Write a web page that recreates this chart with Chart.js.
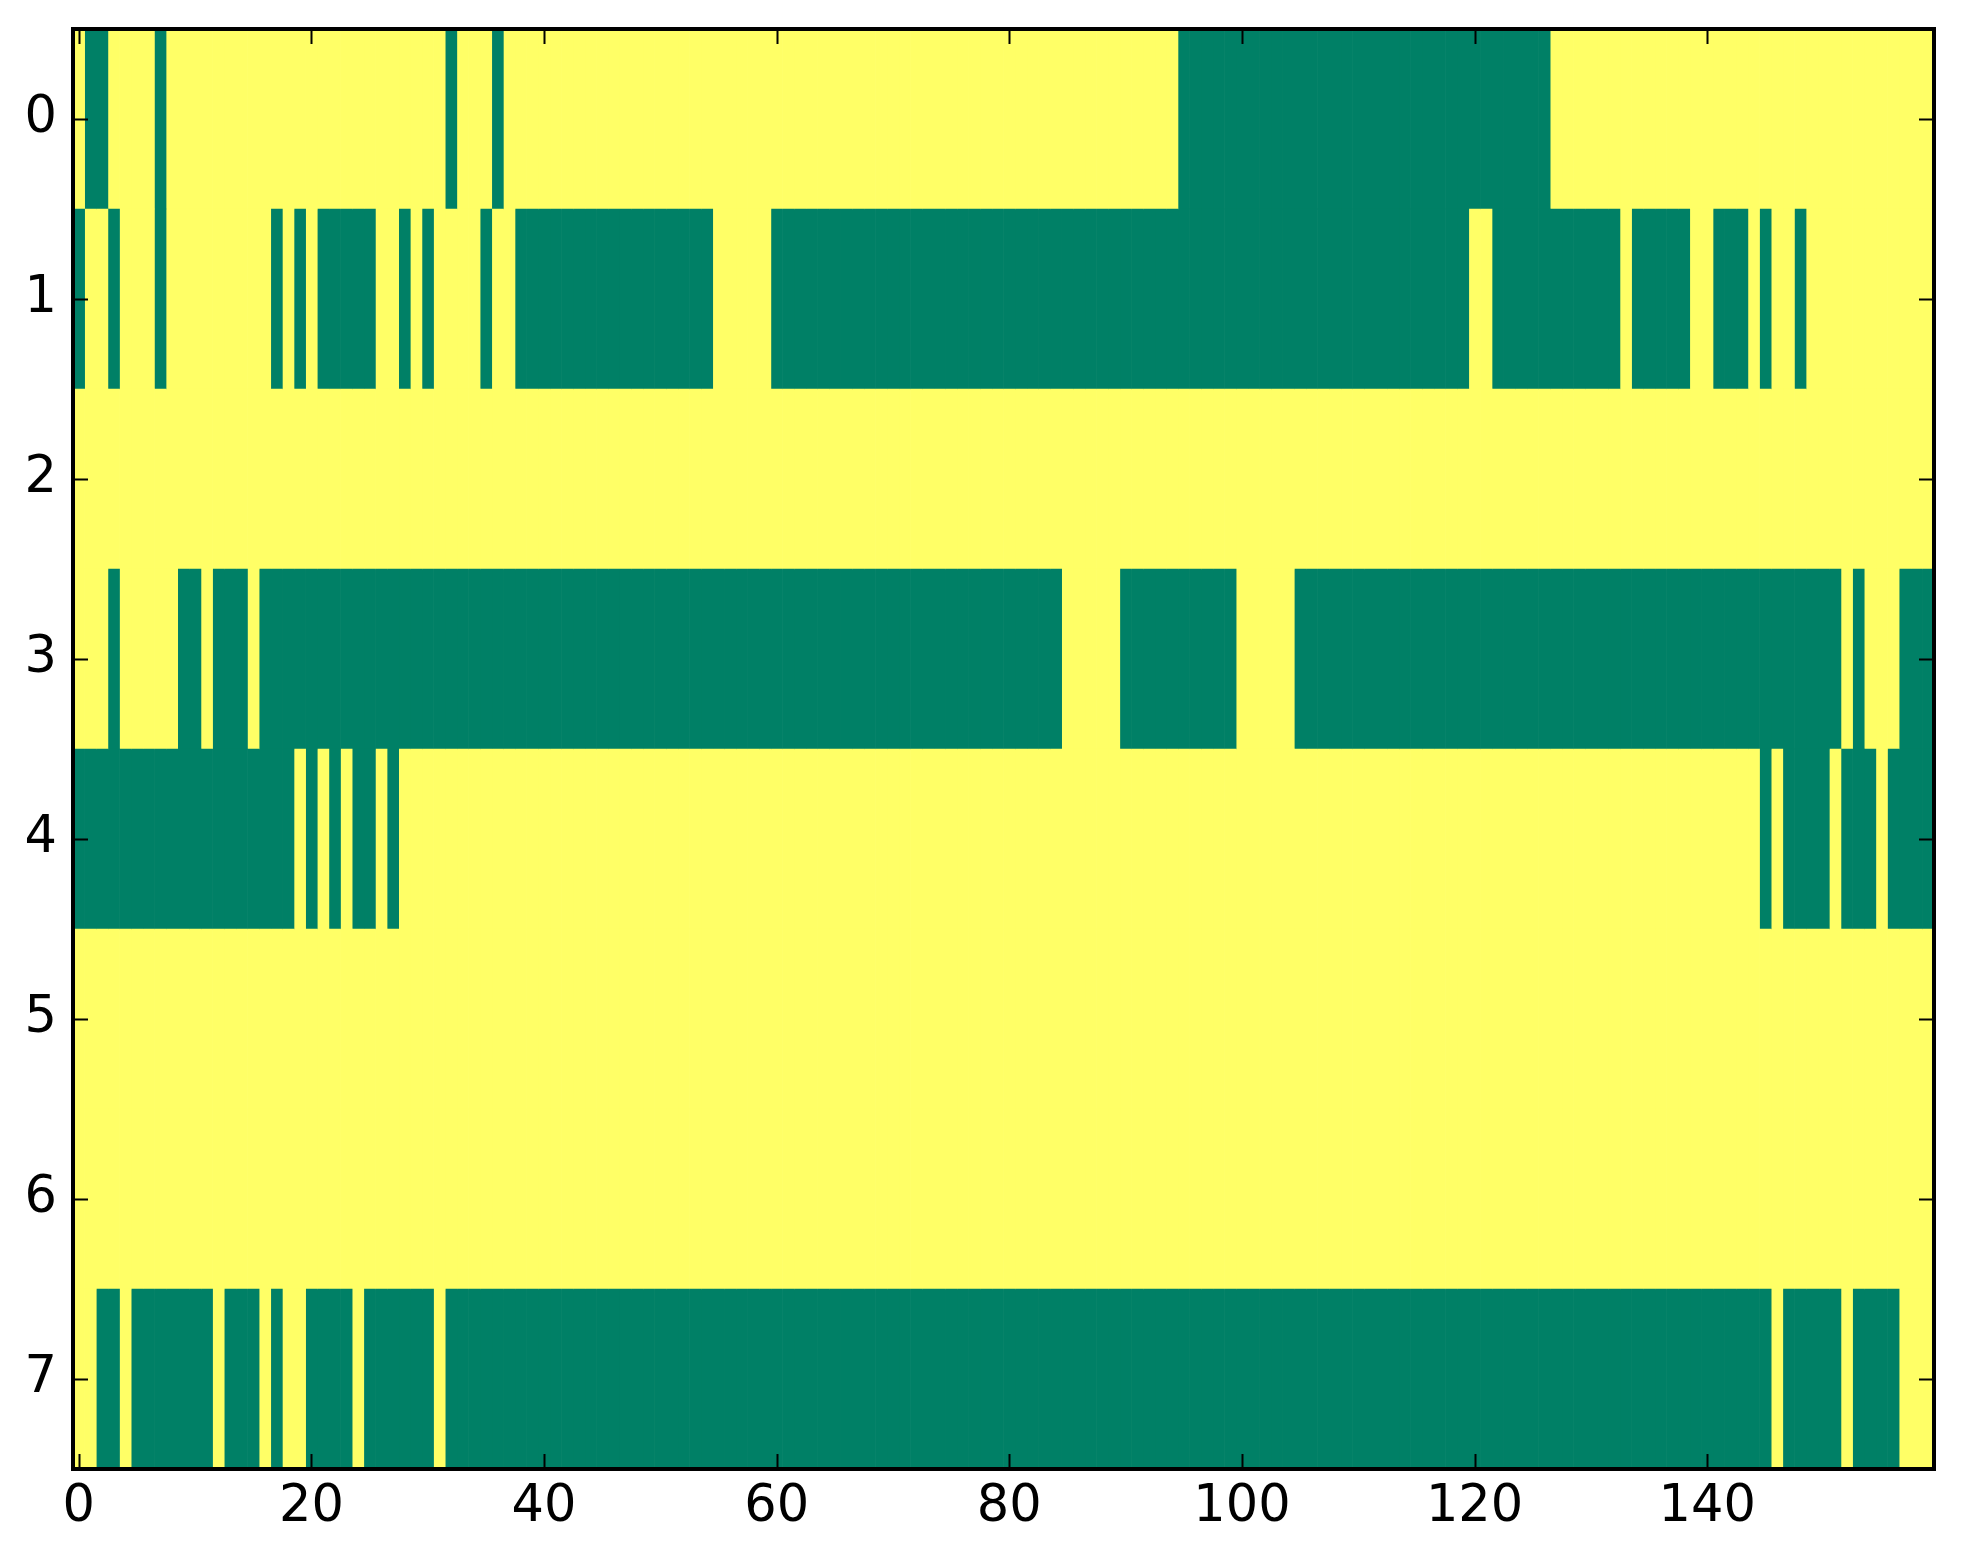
<!DOCTYPE html>
<html>
<head>
<meta charset="utf-8">
<script src="https://cdn.jsdelivr.net/npm/chart.js@4/dist/chart.umd.min.js"></script>
<style>
html,body{margin:0;padding:0;background:#ffffff;}
#wrap{width:1963px;height:1564px;position:relative;}
</style>
</head>
<body>
<div id="wrap"><canvas id="c"></canvas></div>
<script>
// ---- data (1 = high / yellow, 0 = low / green), 160 columns per row ----
const rowLabels = ['0', '1', '2', '3', '4', '5', '6', '7'];
const xTicks = [0, 20, 40, 60, 80, 100, 120, 140];
const xMin = -0.5;
const xMax = 159.5;

const row0 = "1001111011 1111111111 1111111111 1101110111 1111111111 1111111111 1111111111 1111111111 1111111111 1111100000 0000000000 0000000000 0000000111 1111111111 1111111111 1111111111";
const row1 = "0110111011 1111111010 1000001101 0111101100 0000000000 0000011111 0000000000 0000000000 0000000000 0000000000 0000000000 0000000000 1100000000 0001000001 1000101101 1111111111";
const row2 = "1111111111 1111111111 1111111111 1111111111 1111111111 1111111111 1111111111 1111111111 1111111111 1111111111 1111111111 1111111111 1111111111 1111111111 1111111111 1111111111";
const row3 = "1110111110 0100010000 0000000000 0000000000 0000000000 0000000000 0000000000 0000000000 0000011111 0000000000 1111100000 0000000000 0000000000 0000000000 0000000000 0010111000";
const row4 = "0000000000 0000000001 0101001011 1111111111 1111111111 1111111111 1111111111 1111111111 1111111111 1111111111 1111111111 1111111111 1111111111 1111111111 1111101000 0100010000";
const row5 = "1111111111 1111111111 1111111111 1111111111 1111111111 1111111111 1111111111 1111111111 1111111111 1111111111 1111111111 1111111111 1111111111 1111111111 1111111111 1111111111";
const row6 = "1111111111 1111111111 1111111111 1111111111 1111111111 1111111111 1111111111 1111111111 1111111111 1111111111 1111111111 1111111111 1111111111 1111111111 1111111111 1111111111";
const row7 = "1100100000 0010001011 0000100000 0100000000 0000000000 0000000000 0000000000 0000000000 0000000000 0000000000 0000000000 0000000000 0000000000 0000000000 0000001000 0010000111";

const colorLow = '#008066';   // summer colormap at 0
const colorHigh = '#ffff66';  // summer colormap at 1

// ---- build datasets: one floating-bar dataset per column ----
const matrix = [row0, row1, row2, row3, row4, row5, row6, row7]
  .map(s => s.replace(/\s+/g, '').split('').map(Number));
const nCols = matrix[0].length;

const datasets = [];
for (let k = 0; k < nCols; k++) {
  datasets.push({
    data: matrix.map(() => [k - 0.5, k + 0.5]),
    backgroundColor: matrix.map(r => (r[k] ? colorHigh : colorLow)),
    borderWidth: 0,
    borderSkipped: false,
    barPercentage: 1.0,
    categoryPercentage: 1.0,
    grouped: false
  });
}

const frameTicks = {
  id: 'frameTicks',
  afterDraw(chart) {
    const ctx = chart.ctx;
    const a = chart.chartArea;
    const xs = chart.scales.x, ys = chart.scales.y;
    const len = 15;
    ctx.save();
    ctx.strokeStyle = '#000000';
    ctx.lineWidth = 2;
    ctx.beginPath();
    xs.ticks.forEach(t => {
      const px = Math.round(xs.getPixelForValue(t.value)) + 0.5;
      ctx.moveTo(px, a.bottom); ctx.lineTo(px, a.bottom - len);
      ctx.moveTo(px, a.top); ctx.lineTo(px, a.top + len);
    });
    ys.ticks.forEach((t, i) => {
      const py = Math.round(ys.getPixelForTick(i)) + 0.5;
      ctx.moveTo(a.left, py); ctx.lineTo(a.left + len, py);
      ctx.moveTo(a.right, py); ctx.lineTo(a.right - len, py);
    });
    ctx.stroke();
    ctx.lineWidth = 4;
    ctx.strokeRect(a.left, a.top, a.right - a.left, a.bottom - a.top);
    ctx.restore();
  }
};

const tickFont = { family: 'DejaVu Sans', size: 51 };

new Chart(document.getElementById('c'), {
  type: 'bar',
  data: { labels: rowLabels, datasets: datasets },
  options: {
    indexAxis: 'y',
    responsive: true,
    maintainAspectRatio: false,
    devicePixelRatio: 1,
    animation: false,
    events: [],
    layout: { padding: { left: 0, top: 29, right: 29, bottom: 0 } },
    plugins: { legend: { display: false }, tooltip: { enabled: false }, title: { display: false } },
    scales: {
      x: {
        type: 'linear',
        min: xMin,
        max: xMax,
        grid: { display: false, drawTicks: false },
        border: { display: false },
        afterBuildTicks: s => { s.ticks = xTicks.map(v => ({ value: v })); },
        afterFit: s => { s.height = 95; s.paddingLeft = 0; s.paddingRight = 0; },
        ticks: {
          font: tickFont,
          color: '#000000',
          padding: 8,
          maxRotation: 0,
          autoSkip: false,
          callback: v => String(v)
        }
      },
      y: {
        type: 'category',
        grid: { display: false, drawTicks: false },
        border: { display: false },
        afterFit: s => { s.width = 73; s.paddingTop = 0; s.paddingBottom = 0; },
        ticks: {
          font: tickFont,
          color: '#000000',
          padding: 16,
          autoSkip: false
        }
      }
    }
  },
  plugins: [frameTicks]
});
</script>
</body>
</html>
